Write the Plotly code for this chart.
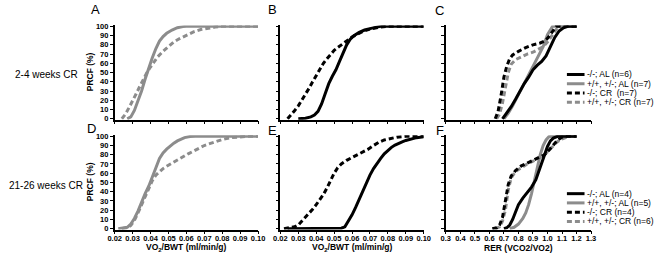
import plotly.graph_objects as go

# ---------------- data (cumulative frequency, %) ----------------
# Panel A: 2-4 weeks, +/+,+/- mice, VO2/BWT
a_al_x = [0.027, 0.029, 0.031, 0.033, 0.035, 0.037, 0.039, 0.041, 0.043, 0.045, 0.047, 0.049, 0.052, 0.055, 0.058, 0.060, 0.100]
a_al_y = [0, 2, 9, 19, 30, 43, 55, 66, 76, 84, 89, 92.5, 96, 98.5, 99.7, 100, 100]
a_cr_x = [0.024, 0.026, 0.028, 0.030, 0.032, 0.034, 0.036, 0.038, 0.040, 0.042, 0.044, 0.047, 0.050, 0.053, 0.056, 0.060, 0.064, 0.068, 0.072, 0.076, 0.080, 0.100]
a_cr_y = [0, 5, 12, 19, 27, 35, 43, 50, 56, 62, 67, 73, 78, 83, 86.5, 90.5, 94, 96.5, 98, 99.2, 100, 100]

# Panel B: 2-4 weeks, -/- mice, VO2/BWT
b_al_x = [0.030, 0.034, 0.037, 0.039, 0.041, 0.043, 0.045, 0.047, 0.049, 0.051, 0.053, 0.055, 0.057, 0.059, 0.061, 0.064, 0.067, 0.070, 0.073, 0.076, 0.100]
b_al_y = [0, 0.5, 2, 4, 8, 16, 27, 38, 46, 53, 62, 72, 80, 86, 90, 93.5, 96, 97.5, 99, 100, 100]
b_cr_x = [0.024, 0.026, 0.028, 0.030, 0.032, 0.034, 0.036, 0.038, 0.040, 0.042, 0.044, 0.046, 0.048, 0.050, 0.052, 0.054, 0.056, 0.058, 0.060, 0.063, 0.066, 0.070, 0.075, 0.080, 0.100]
b_cr_y = [0, 4, 9, 14, 20, 26, 33, 40, 47, 54, 60, 65, 70, 74, 77, 80, 83.5, 86, 88.5, 91.5, 94.5, 97, 99, 100, 100]

# Panel C: 2-4 weeks, RER
c_ko_al_x = [0.69, 0.72, 0.75, 0.78, 0.81, 0.84, 0.87, 0.90, 0.93, 0.96, 0.99, 1.02, 1.05, 1.08, 1.11, 1.14, 1.20]
c_ko_al_y = [0, 6, 13, 21, 30, 38, 45, 53, 58, 62, 68, 79, 88, 95, 98.5, 100, 100]
c_wt_al_x = [0.70, 0.73, 0.76, 0.79, 0.82, 0.85, 0.88, 0.91, 0.94, 0.97, 1.00, 1.02, 1.035, 1.20]
c_wt_al_y = [0, 6, 14, 23, 32, 41, 51, 60, 68, 78, 91, 97, 100, 100]
c_ko_cr_x = [0.64, 0.66, 0.68, 0.70, 0.72, 0.74, 0.76, 0.80, 0.85, 0.90, 0.95, 0.98, 1.00, 1.02, 1.04, 1.06, 1.20]
c_ko_cr_y = [0, 8, 25, 45, 57, 65, 69, 73, 77, 80, 82, 84, 87, 91, 96, 100, 100]
c_wt_cr_x = [0.65, 0.67, 0.69, 0.71, 0.73, 0.75, 0.78, 0.82, 0.86, 0.90, 0.94, 0.97, 1.00, 1.03, 1.05, 1.075, 1.20]
c_wt_cr_y = [0, 5, 17, 35, 50, 59, 64, 67, 70, 72, 75, 78, 83, 90, 95, 100, 100]

# Panel D: 21-26 weeks, +/+,+/- mice, VO2/BWT
d_al_x = [0.022, 0.025, 0.027, 0.029, 0.031, 0.033, 0.035, 0.037, 0.039, 0.041, 0.043, 0.045, 0.047, 0.049, 0.051, 0.053, 0.055, 0.057, 0.059, 0.062, 0.065, 0.100]
d_al_y = [0, 0.5, 1.5, 5, 11, 19, 29, 38, 46, 55, 66, 76, 82, 86, 89.5, 92.5, 95, 97, 98.5, 99.7, 100, 100]
d_cr_x = [0.024, 0.027, 0.029, 0.031, 0.033, 0.035, 0.037, 0.039, 0.041, 0.043, 0.045, 0.047, 0.049, 0.052, 0.055, 0.058, 0.061, 0.064, 0.067, 0.070, 0.073, 0.076, 0.080, 0.085, 0.090, 0.094, 0.100]
d_cr_y = [0, 1, 3.5, 9, 17, 26, 35, 44, 52, 58, 62, 65, 67.5, 71, 74, 77.5, 81, 84, 87, 90, 92, 94, 96.5, 98.5, 99.5, 100, 100]

# Panel E: 21-26 weeks, -/- mice, VO2/BWT
e_al_x = [0.024, 0.040, 0.050, 0.054, 0.056, 0.058, 0.060, 0.062, 0.064, 0.066, 0.068, 0.070, 0.072, 0.074, 0.076, 0.078, 0.080, 0.082, 0.084, 0.086, 0.088, 0.090, 0.093, 0.096, 0.100]
e_al_y = [0, 0, 0, 0.5, 2, 8, 15, 23, 32, 41, 50, 58, 65, 71, 76, 81, 85, 88, 90.5, 92.5, 94, 95.5, 97, 98.5, 99.5]
e_cr_x = [0.022, 0.025, 0.028, 0.030, 0.032, 0.034, 0.036, 0.038, 0.040, 0.042, 0.044, 0.046, 0.048, 0.050, 0.052, 0.054, 0.057, 0.060, 0.063, 0.066, 0.069, 0.072, 0.075, 0.078, 0.081, 0.085, 0.090, 0.100]
e_cr_y = [0, 1, 2, 4, 8, 12, 16, 21, 26, 31, 37, 44, 52, 60, 66, 70, 74, 77, 80, 83, 86, 90, 93.5, 96, 97.5, 99, 100, 100]

# Panel F: 21-26 weeks, RER
f_ko_al_x = [0.70, 0.72, 0.74, 0.76, 0.78, 0.80, 0.83, 0.86, 0.89, 0.92, 0.94, 0.96, 0.98, 1.00, 1.02, 1.04, 1.07, 1.20]
f_ko_al_y = [0, 1, 4, 10, 18, 26, 33, 39, 45, 53, 62, 72, 81, 89, 95, 98, 100, 100]
f_wt_al_x = [0.74, 0.77, 0.80, 0.83, 0.85, 0.87, 0.89, 0.91, 0.93, 0.95, 0.97, 0.99, 1.01, 1.03, 1.20]
f_wt_al_y = [0, 1.5, 5, 11, 17, 26, 38, 53, 67, 80, 90, 96, 99.5, 100, 100]
f_ko_cr_x = [0.62, 0.65, 0.67, 0.69, 0.71, 0.73, 0.75, 0.78, 0.82, 0.86, 0.90, 0.94, 0.98, 1.01, 1.04, 1.07, 1.10, 1.12, 1.20]
f_ko_cr_y = [0, 1, 4, 12, 30, 48, 57, 63, 68, 71, 74, 77, 80, 85, 91, 96, 99, 100, 100]
f_wt_cr_x = [0.64, 0.67, 0.69, 0.71, 0.73, 0.75, 0.78, 0.82, 0.86, 0.90, 0.94, 0.97, 1.00, 1.03, 1.06, 1.09, 1.12, 1.15, 1.20]
f_wt_cr_y = [0, 2, 8, 20, 42, 55, 62, 66, 70, 73, 76, 79, 83, 88, 93, 96.5, 98.5, 100, 100]

legend_top = ["-/-; AL (n=6)", "+/+, +/-; AL (n=7)", "-/-; CR  (n=7)", "+/+, +/-; CR (n=7)"]
legend_bottom = ["-/-; AL (n=4)", "+/+, +/-; AL (n=5)", "-/-; CR (n=4)", "+/+, +/-; CR (n=6)"]
row_labels = ["2-4 weeks CR", "21-26 weeks CR"]
panel_letters = ["A", "B", "C", "D", "E", "F"]
vo2_title = "VO<sub>2</sub>/BWT (ml/min/g)"
rer_title = "RER (VCO2/VO2)"
y_title = "PRCF (%)"

# ---------------- layout helpers ----------------
W, H = 662, 257
BLACK = "#000000"
GRAY = "#8c8c8c"
FONT = "Liberation Sans"
DASH = "5px,3px"
LW = 3


def px(x):
    return x / W


def py(y):
    return 1 - y / H


# axis domains in pixels
col_px = [(110, 256.5), (279.3, 425.7), (448.3, 596.7)]
row_px = [(23.05, 119.95), (136.05, 232.95)]  # (top, bottom) for y range [-1, 101]

fig = go.Figure()

styles = {
    "ko_al": dict(color=BLACK, dash="solid"),
    "wt_al": dict(color=GRAY, dash="solid"),
    "ko_cr": dict(color=BLACK, dash=DASH),
    "wt_cr": dict(color=GRAY, dash=DASH),
}

panels = [
    [("wt_al", a_al_x, a_al_y), ("wt_cr", a_cr_x, a_cr_y)],
    [("ko_al", b_al_x, b_al_y), ("ko_cr", b_cr_x, b_cr_y)],
    [("wt_cr", c_wt_cr_x, c_wt_cr_y), ("wt_al", c_wt_al_x, c_wt_al_y),
     ("ko_cr", c_ko_cr_x, c_ko_cr_y), ("ko_al", c_ko_al_x, c_ko_al_y)],
    [("wt_al", d_al_x, d_al_y), ("wt_cr", d_cr_x, d_cr_y)],
    [("ko_al", e_al_x, e_al_y), ("ko_cr", e_cr_x, e_cr_y)],
    [("wt_cr", f_wt_cr_x, f_wt_cr_y), ("wt_al", f_wt_al_x, f_wt_al_y),
     ("ko_cr", f_ko_cr_x, f_ko_cr_y), ("ko_al", f_ko_al_x, f_ko_al_y)],
]

for i, series in enumerate(panels):
    n = "" if i == 0 else str(i + 1)
    for key, xs, ys in series:
        st = styles[key]
        fig.add_trace(go.Scatter(
            x=xs, y=ys, mode="lines", xaxis="x" + n, yaxis="y" + n,
            line=dict(color=st["color"], width=LW, dash=st["dash"]),
            showlegend=False, hoverinfo="skip"))

tickfont = dict(family=FONT, size=7.5, color=BLACK, weight="bold")
layout_axes = {}
for i in range(6):
    r, c = divmod(i, 3)
    n = "" if i == 0 else str(i + 1)
    x0, x1 = col_px[c]
    t, b = row_px[r]
    is_rer = c == 2
    layout_axes["xaxis" + n] = dict(
        domain=[px(x0), px(x1)], anchor="y" + n,
        range=[0.3, 1.3] if is_rer else [0.02, 0.10],
        dtick=0.1 if is_rer else 0.01, tick0=0.3 if is_rer else 0.02,
        tickformat=".1f" if is_rer else ".2f",
        showline=True, linecolor=BLACK, linewidth=1.5,
        ticks="outside", ticklen=2.5, tickwidth=1.2, tickcolor=BLACK,
        showgrid=False, zeroline=False, showticklabels=(r == 1),
        ticklabelstandoff=-2,
        tickfont=tickfont, fixedrange=True)
    layout_axes["yaxis" + n] = dict(
        domain=[py(b), py(t)], anchor="x" + n, range=[-1, 101],
        dtick=10, tick0=0,
        showline=True, linecolor=BLACK, linewidth=1.5,
        ticks="outside", ticklen=3, tickwidth=1.2, tickcolor=BLACK,
        showgrid=False, zeroline=False, showticklabels=(c == 0),
        tickfont=tickfont, fixedrange=True)

fig.update_layout(**layout_axes)

ann = []
# panel letters
letter_pos = [(90, 7), (271, 7), (442, 8), (86.5, 128.5), (271, 131), (442, 131)]
for L, (lx, ly) in zip(panel_letters, letter_pos):
    ann.append(dict(text=L, x=px(lx), y=py(ly), xref="paper", yref="paper",
                    showarrow=False, xanchor="center", yanchor="middle", borderpad=0,
                    font=dict(family=FONT, size=13, color=BLACK)))
# row labels
for lab, ly in zip(row_labels, [74, 188]):
    ann.append(dict(text=lab, x=px(40), y=py(ly), xref="paper", yref="paper",
                    showarrow=False, xanchor="center", yanchor="middle",
                    font=dict(family=FONT, size=10, color=BLACK)))
# y titles
for ly in [71, 184]:
    ann.append(dict(text=y_title, x=px(85), y=py(ly), xref="paper", yref="paper",
                    showarrow=False, xanchor="center", yanchor="middle", textangle=-90,
                    font=dict(family=FONT, size=8.5, color=BLACK, weight="bold")))
# x titles
for (x0, x1), t in zip(col_px, [vo2_title, vo2_title, rer_title]):
    ann.append(dict(text=t, x=px((x0 + x1) / 2), y=py(258), xref="paper", yref="paper",
                    showarrow=False, xanchor="center", yanchor="bottom", borderpad=0,
                    font=dict(family=FONT, size=8.5, color=BLACK, weight="bold")))

# manual legends
shapes = []
leg_keys = ["ko_al", "wt_al", "ko_cr", "wt_cr"]
for labels, ys in [(legend_top, [73.5, 83, 92.5, 102]), (legend_bottom, [196, 205.5, 215, 224.5])]:
    for lab, key, ly in zip(labels, leg_keys, ys):
        st = styles[key]
        shapes.append(dict(type="line", xref="paper", yref="paper",
                           x0=px(572), x1=px(590), y0=py(ly), y1=py(ly),
                           line=dict(color=st["color"], width=LW,
                                     dash="solid" if st["dash"] == "solid" else "5px,3px")))
        ann.append(dict(text=lab, x=px(591.5), y=py(ly), xref="paper", yref="paper",
                        showarrow=False, xanchor="left", yanchor="middle", borderpad=0,
                        font=dict(family=FONT, size=8.5, color=BLACK)))

fig.update_layout(
    width=W, height=H, margin=dict(l=0, r=0, t=0, b=0),
    paper_bgcolor="white", plot_bgcolor="white",
    showlegend=False, annotations=ann, shapes=shapes,
    font=dict(family=FONT, color=BLACK))

fig.write_html(
    "out.html", config={"displayModeBar": False},
    post_script="document.body.style.margin='0';document.body.style.overflow='hidden';")
